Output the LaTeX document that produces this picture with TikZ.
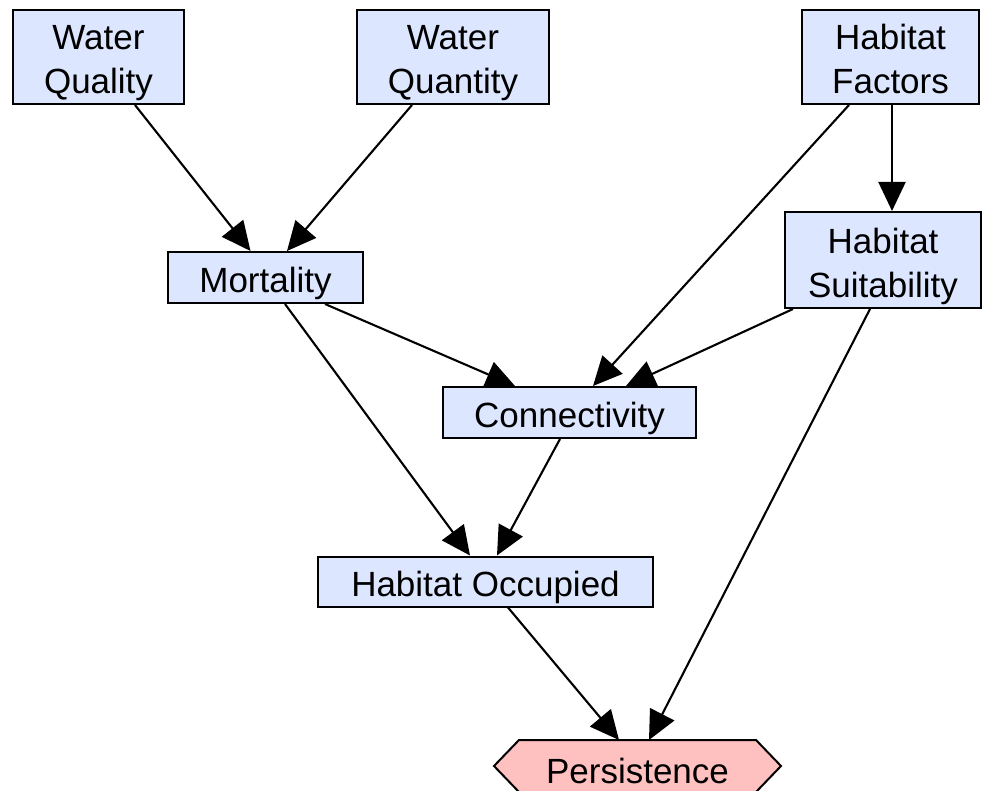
\documentclass[tikz,border=0pt]{standalone}
\usepackage{fontspec}
\setmainfont{Liberation Sans}
\usetikzlibrary{arrows.meta}
\definecolor{boxblue}{RGB}{221,230,255}
\definecolor{boxpink}{RGB}{255,192,192}
\begin{document}
\begin{tikzpicture}[x=1pt,y=-1pt,
  txt/.style={align=center, inner sep=0pt, font=\fontsize{35}{44}\selectfont, yshift=-6pt},
  box/.style={draw=black, line width=2pt, fill=boxblue, inner sep=0pt},
  arr/.style={line width=2.1pt, -{Triangle[length=29pt,width=27pt]}}]
\useasboundingbox (0,0) rectangle (982,791);
\node[box, minimum width=171pt, minimum height=94pt, label={[txt]center:{Water\\Quality}}] (wq) at (98.5,57) {};
\node[box, minimum width=192pt, minimum height=94pt, label={[txt]center:{Water\\Quantity}}] (wqn) at (453,57) {};
\node[box, minimum width=177pt, minimum height=94pt, label={[txt,yshift=4pt]center:{Habitat\\Factors}}] (hf) at (890.5,57) {};
\node[box, minimum width=195pt, minimum height=51pt, label={[txt]center:Mortality}] (mort) at (265.5,277.5) {};
\node[box, minimum width=196pt, minimum height=96pt, label={[txt]center:{Habitat\\Suitability}}] (hs) at (883,260) {};
\node[box, minimum width=253pt, minimum height=51pt, label={[txt]center:Connectivity}] (conn) at (569.5,412.5) {};
\node[box, minimum width=335pt, minimum height=50pt, label={[txt]center:Habitat Occupied}] (ho) at (485.5,581.5) {};
\node[inner sep=0pt, outer sep=1pt, minimum width=235pt, minimum height=52pt] (pers) at (637.5,767) {};
\draw[line width=2pt, fill=boxpink] (pers.north west) -- (pers.north east) -- ++(25,26) -- ++(-25,26)
  -- ([yshift=-52pt]pers.north west) -- ++(-25,-26) -- cycle;
\node[txt, yshift=2pt] (perstext) at (pers) {Persistence};
\draw[arr] ([xshift=36.5pt]wq.south) -- ([xshift=-15pt]mort.north);
\draw[arr] ([xshift=-41pt]wqn.south) -- ([xshift=21.5pt]mort.north);
\draw[arr] ([xshift=-41.5pt]hf.south) -- ([xshift=23.5pt]conn.north);
\draw[arr] ([xshift=1.5pt]hf.south) -- ([xshift=9pt]hs.north);
\draw[arr] ([xshift=59.5pt]mort.south) -- ([xshift=-54.5pt]conn.north);
\draw[arr] ([xshift=19.5pt]mort.south) -- ([xshift=-15.5pt]ho.north);
\draw[arr] ([xshift=-90pt]hs.south) -- ([xshift=56.5pt]conn.north);
\draw[arr] ([xshift=-13pt]hs.south) -- ([xshift=11.5pt]pers.north);
\draw[arr] ([xshift=-9.5pt]conn.south) -- ([xshift=11.5pt]ho.north);
\draw[arr] ([xshift=22.5pt]ho.south) -- ([xshift=-18.5pt]pers.north);
\end{tikzpicture}
\end{document}
